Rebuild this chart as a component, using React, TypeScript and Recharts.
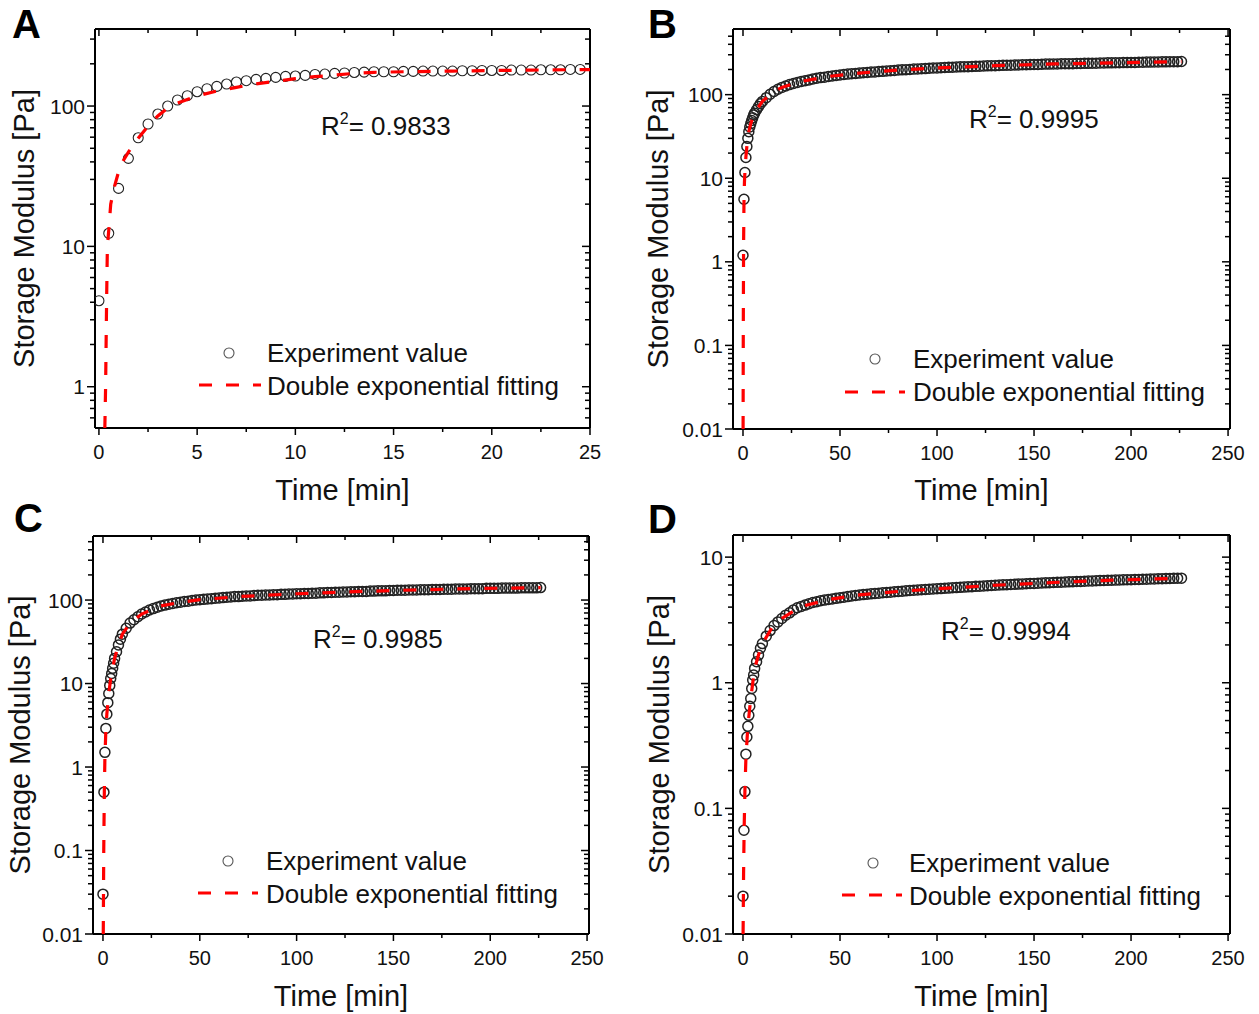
import React from "react"
import { ComposedChart, Scatter, Line, XAxis, YAxis } from "recharts"

const FONT = "Arial, 'Liberation Sans', Helvetica, sans-serif"

// panel A: first 25 min, one reading every 30 s
const timeA = [
  0, 0.5, 1, 1.5, 2, 2.5, 3, 3.5, 4, 4.5, 5, 5.5, 6, 6.5, 7, 7.5, 8, 8.5, 9, 9.5,
  10, 10.5, 11, 11.5, 12, 12.5, 13, 13.5, 14, 14.5, 15, 15.5, 16, 16.5, 17, 17.5,
  18, 18.5, 19, 19.5, 20, 20.5, 21, 21.5, 22, 22.5, 23, 23.5, 24, 24.5,
]
const storageA = [
  4.1, 12.4, 25.9, 42.4, 59.4, 74.5, 87.7, 100, 110.4, 118.5, 126.5, 132.9, 138, 143.5, 148.3, 151.6, 154.9, 157.4, 160, 162.6,
  163.6, 165.4, 168, 169, 171, 172, 173.5, 174.6, 175.6, 175.6, 175.6, 176.6, 176.6, 177.5, 177.5, 177.5,
  177.5, 178.5, 178.5, 179.3, 179.3, 179.3, 180.5, 180.5, 180.5, 181.3, 181.3, 181.3, 182.3, 182.3,
]
const fitTimeA = [0.3, 0.34, 0.39, 0.43, 0.5, 0.6, 0.8, 1, 1.2, 1.5, 2, 2.5, 3, 3.5, 4, 5, 6, 7, 8, 9, 10, 11, 12, 13, 14, 16, 18, 20, 22, 25]
const fitA = [0.5, 1, 4, 10, 13, 20, 27, 34, 40, 47, 59, 72, 85, 97, 105, 118, 128, 136, 144, 150, 157, 162, 166, 171, 174, 176, 177.5, 179, 180.5, 182]

// panels B-D: long runs (dense readings)
const timeLong = [
  0, 0.5, 1, 1.5, 2, 2.5, 3, 3.5, 4, 4.5, 5, 5.5, 6, 7, 8, 9,
  10, 12, 14, 16, 18, 20, 22, 24, 26, 28, 30, 32, 34, 36, 38, 40, 42, 44, 46, 48,
  50, 52, 54, 56, 58, 60, 62, 64, 66, 68, 70, 72, 74, 76, 78, 80, 82, 84, 86, 88,
  90, 92, 94, 96, 98, 100, 102, 104, 106, 108, 110, 112, 114, 116, 118, 120, 122, 124, 126, 128,
  130, 132, 134, 136, 138, 140, 142, 144, 146, 148, 150, 152, 154, 156, 158, 160, 162, 164, 166, 168,
  170, 172, 174, 176, 178, 180, 182, 184, 186, 188, 190, 192, 194, 196, 198, 200, 202, 204, 206, 208,
  210, 212, 214, 216, 218, 220, 222, 224, 226,
]
const storageB = [
  1.2, 5.6, 11.7, 17.7, 24, 30, 36, 41, 45, 49, 53, 57, 60, 66, 72, 78,
  83, 92, 101, 109, 116, 122, 127, 132, 136, 140, 144, 147, 150, 154, 157, 160, 162, 165, 167, 170,
  172, 174, 176, 178, 179, 181, 183, 184, 186, 187, 189, 190, 192, 193, 195, 197, 198, 199, 200, 202,
  203, 204, 205, 207, 208, 209, 210, 211, 212, 213, 214, 215, 216, 216, 217, 218, 219, 220, 221, 222,
  222, 223, 224, 225, 225, 226, 227, 228, 228, 229, 230, 230, 231, 232, 232, 233, 233, 234, 234, 235,
  235, 236, 236, 237, 237, 238, 238, 239, 239, 240, 240, 241, 241, 242, 242, 243, 243, 244, 244, 245,
  245, 246, 246, 247, 247, 248, 248, 248, 249,
]
const storageC = [
  0.03, 0.5, 1.5, 2.9, 4.3, 5.9, 7.6, 9.5, 11.5, 13.2, 15.2, 17.5, 20, 24, 29, 34,
  39, 46, 53, 58, 63, 68, 72, 76, 79, 82, 85, 87, 89, 91, 93, 94, 96, 97, 99, 100,
  101, 102, 103, 104, 105, 106, 107, 108, 109, 110, 110, 111, 112, 112, 113, 114, 114, 115, 115, 116,
  116, 117, 117, 118, 118, 119, 119, 120, 120, 121, 121, 122, 122, 123, 123, 124, 124, 125, 125, 126,
  126, 127, 127, 127, 128, 128, 129, 129, 129, 130, 130, 131, 131, 131, 132, 132, 132, 133, 133, 133,
  134, 134, 134, 135, 135, 135, 136, 136, 136, 136, 137, 137, 137, 137, 138, 138, 138, 138, 139, 139,
  139, 139, 139, 140, 140, 140, 140, 140, 141,
]
const storageD = [
  0.02, 0.067, 0.136, 0.27, 0.37, 0.45, 0.55, 0.65, 0.75, 0.9, 1.05, 1.15, 1.3, 1.47, 1.66, 1.88,
  2.05, 2.35, 2.6, 2.85, 3.05, 3.25, 3.45, 3.6, 3.8, 3.95, 4.05, 4.15, 4.25, 4.35, 4.42, 4.5, 4.55, 4.6, 4.65, 4.7,
  4.75, 4.8, 4.85, 4.9, 4.95, 5.0, 5.03, 5.06, 5.1, 5.13, 5.16, 5.2, 5.23, 5.26, 5.3, 5.33, 5.36, 5.39, 5.42, 5.45,
  5.47, 5.5, 5.52, 5.55, 5.57, 5.6, 5.62, 5.65, 5.67, 5.7, 5.72, 5.75, 5.77, 5.8, 5.82, 5.85, 5.87, 5.9, 5.92, 5.95,
  5.97, 6.0, 6.02, 6.04, 6.06, 6.08, 6.1, 6.12, 6.14, 6.16, 6.18, 6.2, 6.22, 6.24, 6.26, 6.28, 6.3, 6.32, 6.34, 6.36,
  6.38, 6.4, 6.41, 6.43, 6.45, 6.47, 6.48, 6.5, 6.52, 6.53, 6.55, 6.56, 6.58, 6.59, 6.61, 6.62, 6.64, 6.65, 6.67, 6.68,
  6.7, 6.71, 6.72, 6.74, 6.75, 6.76, 6.78, 6.79, 6.8,
]

const fitTimeB = [0.05, 0.15, 0.3, 0.5, 0.75, 1, 1.5, 2, 3, 4, 5, 7, 10, 15, 20, 30, 45, 60, 80, 100, 130, 160, 190, 226]
const fitB = [0.01, 0.15, 1.5, 5, 9, 12, 18, 24, 36, 45, 53, 66, 83, 105, 122, 144, 166, 181, 197, 209, 222, 233, 240, 249]
const fitTimeC = [0.15, 0.4, 0.7, 1, 1.5, 2, 3, 4, 6, 8, 10, 14, 20, 30, 40, 50, 70, 100, 130, 160, 190, 226]
const fitC = [0.01, 0.1, 0.5, 1.3, 2.8, 4.3, 7.6, 11.5, 20, 29, 39, 53, 68, 85, 94, 101, 110, 119, 126, 132, 137, 141]
const fitTimeD = [0.05, 0.3, 0.6, 1, 1.5, 2.5, 4, 6, 8, 10, 15, 20, 30, 45, 60, 80, 100, 130, 160, 190, 226]
const fitD = [0.01, 0.03, 0.07, 0.14, 0.25, 0.45, 0.75, 1.3, 1.66, 2.05, 2.75, 3.25, 4.05, 4.62, 5.0, 5.33, 5.6, 5.97, 6.28, 6.55, 6.8]

// axis ticks
const xTicksShort = [0, 2.5, 5, 7.5, 10, 12.5, 15, 17.5, 20, 22.5, 25]
const xLabelsShort = [0, 5, 10, 15, 20, 25]
const xTicksLong = [0, 25, 50, 75, 100, 125, 150, 175, 200, 225, 250]
const xLabelsLong = [0, 50, 100, 150, 200, 250]
const yTicksA = [0.6, 0.7, 0.8, 0.9, 1, 2, 3, 4, 5, 6, 7, 8, 9, 10, 20, 30, 40, 50, 60, 70, 80, 90, 100, 200, 300]
const yLabelsA = [1, 10, 100]
const yTicksBC = [
  0.01, 0.02, 0.03, 0.04, 0.05, 0.06, 0.07, 0.08, 0.09, 0.1, 0.2, 0.3, 0.4, 0.5, 0.6, 0.7, 0.8, 0.9,
  1, 2, 3, 4, 5, 6, 7, 8, 9, 10, 20, 30, 40, 50, 60, 70, 80, 90, 100, 200, 300, 400, 500,
]
const yLabelsBC = [0.01, 0.1, 1, 10, 100]
const yTicksD = [
  0.01, 0.02, 0.03, 0.04, 0.05, 0.06, 0.07, 0.08, 0.09, 0.1, 0.2, 0.3, 0.4, 0.5, 0.6, 0.7, 0.8, 0.9,
  1, 2, 3, 4, 5, 6, 7, 8, 9, 10,
]
const yLabelsD = [0.01, 0.1, 1, 10]

const rSquared = ["0.9833", "0.9995", "0.9985", "0.9994"]
const letters = ["A", "B", "C", "D"]

type Row = { t: number; g: number }
const rows = (t: number[], g: number[]): Row[] => t.map((v, i) => ({ t: v, g: g[i] }))

type Panel = {
  box: { x: number; y: number; w: number; h: number }
  plot: { l: number; t: number; r: number; b: number }
  xDomain: [number, number]
  yDomain: [number, number]
  xTicks: number[]
  xLabels: number[]
  yTicks: number[]
  yLabels: number[]
  points: Row[]
  fit: Row[]
  ringWidth: number
  letter: [number, number]
  r2: [number, number]
  yTitleX: number
  xTitleY: number
  legend: { cx: number; cy: number; dashY: number; x0: number; x1: number; textX: number; b1: number; b2: number }
}

const panels: Panel[] = [
  {
    box: { x: 0, y: 0, w: 630, h: 507 },
    plot: { l: 95, t: 29, r: 590, b: 428 },
    xDomain: [-0.2, 25],
    yDomain: [0.508, 354],
    xTicks: xTicksShort,
    xLabels: xLabelsShort,
    yTicks: yTicksA,
    yLabels: yLabelsA,
    points: rows(timeA, storageA),
    fit: rows(fitTimeA, fitA),
    ringWidth: 1.1,
    letter: [12, 38],
    r2: [321, 135],
    yTitleX: 34,
    xTitleY: 500,
    legend: { cx: 229, cy: 353, dashY: 385, x0: 199, x1: 261, textX: 267, b1: 362, b2: 395 },
  },
  {
    box: { x: 630, y: 0, w: 629, h: 507 },
    plot: { l: 733, t: 29, r: 1230, b: 429 },
    xDomain: [-5.15, 251],
    yDomain: [0.01, 610],
    xTicks: xTicksLong,
    xLabels: xLabelsLong,
    yTicks: yTicksBC,
    yLabels: yLabelsBC,
    points: rows(timeLong, storageB),
    fit: rows(fitTimeB, fitB),
    ringWidth: 1.5,
    letter: [648, 38],
    r2: [969, 128],
    yTitleX: 668,
    xTitleY: 500,
    legend: { cx: 875, cy: 359, dashY: 392, x0: 845, x1: 905, textX: 913, b1: 368, b2: 401 },
  },
  {
    box: { x: 0, y: 507, w: 630, h: 507 },
    plot: { l: 93, t: 536, r: 589, b: 934 },
    xDomain: [-5.15, 251],
    yDomain: [0.01, 585],
    xTicks: xTicksLong,
    xLabels: xLabelsLong,
    yTicks: yTicksBC,
    yLabels: yLabelsBC,
    points: rows(timeLong, storageC),
    fit: rows(fitTimeC, fitC),
    ringWidth: 1.5,
    letter: [14, 532],
    r2: [313, 648],
    yTitleX: 30,
    xTitleY: 1006,
    legend: { cx: 228, cy: 861, dashY: 893, x0: 198, x1: 258, textX: 266, b1: 870, b2: 903 },
  },
  {
    box: { x: 630, y: 507, w: 629, h: 507 },
    plot: { l: 733, t: 535, r: 1230, b: 934 },
    xDomain: [-5.15, 251],
    yDomain: [0.01, 15],
    xTicks: xTicksLong,
    xLabels: xLabelsLong,
    yTicks: yTicksD,
    yLabels: yLabelsD,
    points: rows(timeLong, storageD),
    fit: rows(fitTimeD, fitD),
    ringWidth: 1.5,
    letter: [648, 533],
    r2: [941, 640],
    yTitleX: 669,
    xTitleY: 1006,
    legend: { cx: 873, cy: 863, dashY: 895, x0: 842, x1: 902, textX: 909, b1: 872, b2: 905 },
  },
]

const AXIS = { stroke: "#000", strokeWidth: 2 }

function yTick(axisX: number, labels: number[], withText: boolean) {
  return (p: any) => {
    const v = p.payload.value
    const major = labels.includes(v)
    return (
      <g>
        <line x1={axisX} x2={axisX - (major ? 8 : 5)} y1={p.y} y2={p.y} stroke="#000" strokeWidth={1.5} />
        {withText && major && (
          <text x={axisX - 10} y={p.y + 7.5} textAnchor="end" fontSize={21} fontFamily={FONT} fill="#111">
            {String(v)}
          </text>
        )}
      </g>
    )
  }
}

function xTick(axisY: number, dir: number, labels: number[], withText: boolean) {
  return (p: any) => {
    const v = p.payload.value
    const major = labels.includes(v)
    return (
      <g>
        <line x1={p.x} x2={p.x} y1={axisY} y2={axisY + dir * (major ? 7 : 4)} stroke="#000" strokeWidth={1.5} />
        {withText && major && (
          <text x={p.x} y={axisY + 31} textAnchor="middle" fontSize={20} fontFamily={FONT} fill="#111">
            {String(v)}
          </text>
        )}
      </g>
    )
  }
}

const makeRing = (w: number) => (p: any) =>
  <circle cx={p.cx} cy={p.cy} r={5} fill="none" stroke="#222" strokeWidth={w} />

function StoragePanel({ panel }: { panel: Panel }) {
  const { box, plot } = panel
  const leftW = plot.l - box.x
  const rightW = box.x + box.w - plot.r
  const topH = plot.t - box.y
  const bottomH = box.y + box.h - plot.b
  const lx = leftW
  const rx = box.w - rightW
  const ty = topH
  const by = box.h - bottomH
  return (
    <div style={{ position: "absolute", left: box.x, top: box.y }}>
      <ComposedChart width={box.w} height={box.h} margin={{ top: 0, right: 0, bottom: 0, left: 0 }}>
        <XAxis
          xAxisId="bottom"
          type="number"
          dataKey="t"
          domain={panel.xDomain}
          ticks={panel.xTicks}
          interval={0}
          allowDataOverflow
          height={bottomH}
          axisLine={AXIS}
          tickLine={false}
          tick={xTick(by, 1, panel.xLabels, true)}
        />
        <XAxis
          xAxisId="top"
          orientation="top"
          type="number"
          dataKey="t"
          domain={panel.xDomain}
          ticks={panel.xTicks}
          interval={0}
          allowDataOverflow
          height={topH}
          axisLine={AXIS}
          tickLine={false}
          tick={xTick(ty, 1, panel.xLabels, false)}
        />
        <YAxis
          yAxisId="left"
          type="number"
          dataKey="g"
          scale="log"
          domain={panel.yDomain}
          ticks={panel.yTicks}
          interval={0}
          allowDataOverflow
          width={leftW}
          axisLine={AXIS}
          tickLine={false}
          tick={yTick(lx, panel.yLabels, true)}
        />
        <YAxis
          yAxisId="right"
          orientation="right"
          type="number"
          dataKey="g"
          scale="log"
          domain={panel.yDomain}
          ticks={panel.yTicks}
          interval={0}
          allowDataOverflow
          width={rightW}
          axisLine={AXIS}
          tickLine={false}
          tick={yTick(rx, panel.yLabels, false)}
        />
        <Scatter
          xAxisId="bottom"
          yAxisId="left"
          data={panel.points}
          dataKey="g"
          shape={makeRing(panel.ringWidth)}
          isAnimationActive={false}
        />
        <Line
          xAxisId="bottom"
          yAxisId="left"
          data={panel.fit}
          dataKey="g"
          type="linear"
          stroke="#ff0000"
          strokeWidth={3.2}
          strokeDasharray="13 14"
          dot={false}
          activeDot={false}
          isAnimationActive={false}
          {...({ zIndex: 700 } as any)}
        />
        <Line
          xAxisId="top"
          yAxisId="right"
          data={panel.fit}
          dataKey="g"
          stroke="none"
          dot={false}
          activeDot={false}
          isAnimationActive={false}
        />
      </ComposedChart>
    </div>
  )
}

function Annotations({ panel, i }: { panel: Panel; i: number }) {
  const { plot, legend } = panel
  const cx = (plot.l + plot.r) / 2
  const cy = (plot.t + plot.b) / 2
  return (
    <g fontFamily={FONT} fill="#111">
      <text x={panel.letter[0]} y={panel.letter[1]} fontSize={40} fontWeight="bold" fill="#000">
        {letters[i]}
      </text>
      <text x={cx} y={panel.xTitleY} fontSize={29} textAnchor="middle">
        Time [min]
      </text>
      <text transform={`translate(${panel.yTitleX},${cy}) rotate(-90)`} fontSize={29} textAnchor="middle">
        Storage Modulus [Pa]
      </text>
      <text x={panel.r2[0]} y={panel.r2[1]} fontSize={26}>
        R
        <tspan fontSize={16} dy={-11}>2</tspan>
        <tspan dy={11}>= {rSquared[i]}</tspan>
      </text>
      <circle cx={legend.cx} cy={legend.cy} r={5} fill="none" stroke="#555" strokeWidth={1.1} />
      <text x={legend.textX} y={legend.b1} fontSize={26}>
        Experiment value
      </text>
      <line
        x1={legend.x0}
        x2={legend.x1}
        y1={legend.dashY}
        y2={legend.dashY}
        stroke="#ff0000"
        strokeWidth={3.2}
        strokeDasharray="13 14"
      />
      <text x={legend.textX} y={legend.b2} fontSize={26}>
        Double exponential fitting
      </text>
    </g>
  )
}

export default function App() {
  return (
    <div style={{ position: "absolute", left: 0, top: 0, width: 1259, height: 1014, background: "#fff" }}>
      {panels.map((p, i) => (
        <StoragePanel key={i} panel={p} />
      ))}
      <svg
        width={1259}
        height={1014}
        style={{ position: "absolute", left: 0, top: 0, pointerEvents: "none" }}
      >
        {panels.map((p, i) => (
          <Annotations key={i} panel={p} i={i} />
        ))}
      </svg>
    </div>
  )
}
